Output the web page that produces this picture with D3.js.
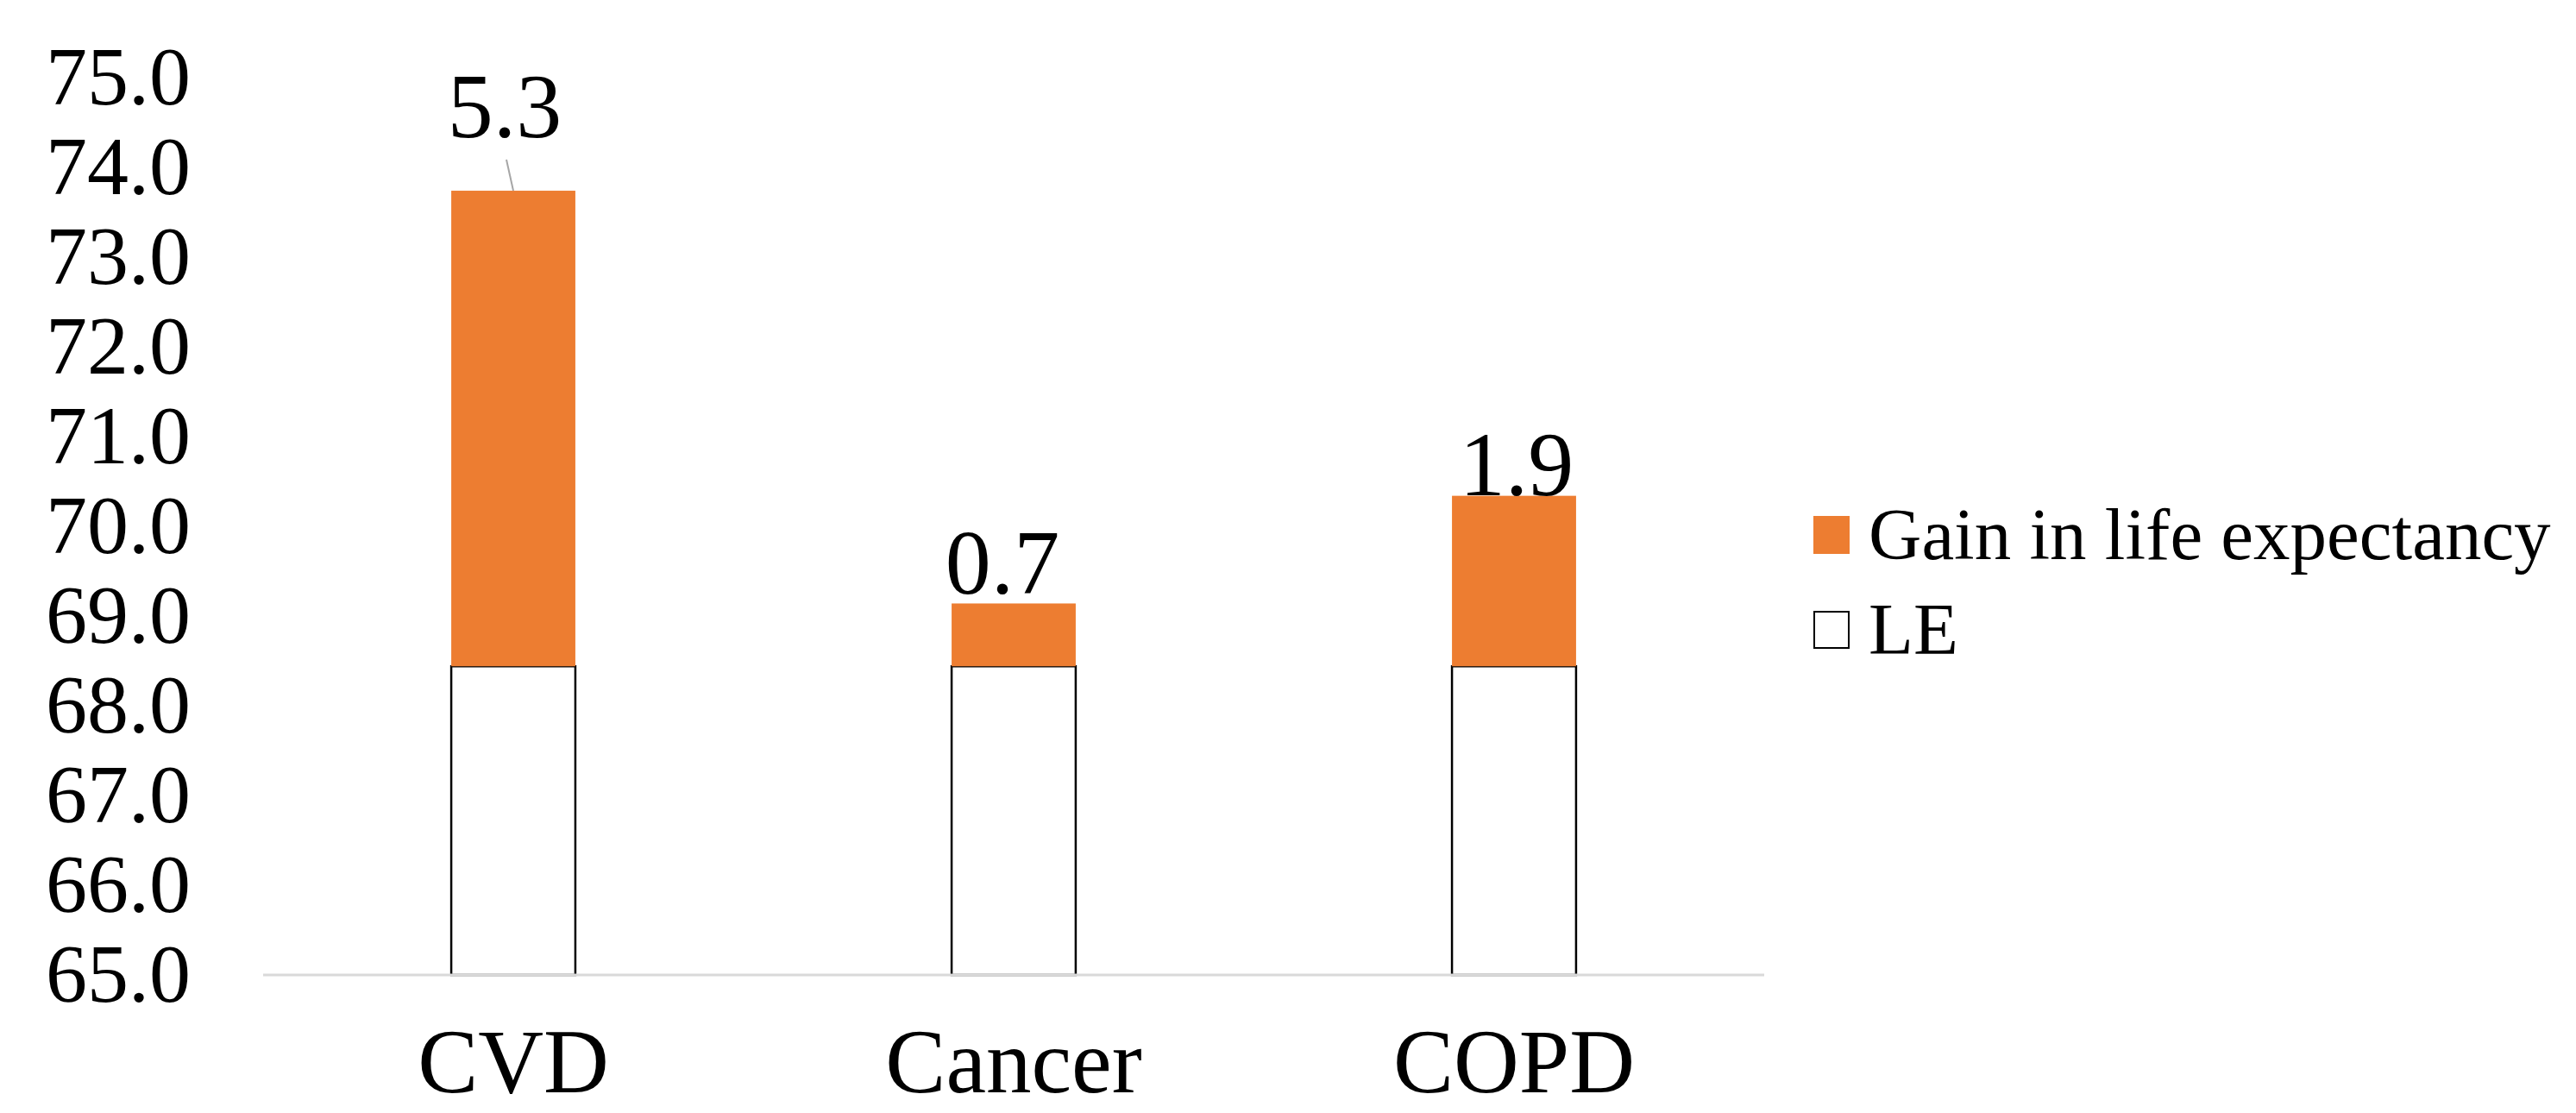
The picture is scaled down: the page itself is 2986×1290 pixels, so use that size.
<!DOCTYPE html>
<html>
<head>
<meta charset="utf-8">
<script src="https://cdn.jsdelivr.net/npm/d3@7"></script>
<style>
  html, body { margin: 0; padding: 0; background: #ffffff; }
  svg { display: block; }
  text { font-family: "Liberation Serif", "Times New Roman", serif; fill: #000; }
</style>
</head>
<body>
<svg id="chart" width="2986" height="1290"></svg>
<script>
// Life expectancy (LE) and the gain from eliminating each cause of death
const categories = ["CVD", "Cancer", "COPD"];
const leValues   = [68.44, 68.44, 68.44];
const gainValues = [5.3, 0.7, 1.9];
const yTicks     = [65, 66, 67, 68, 69, 70, 71, 72, 73, 74, 75];
const seriesNames = ["Gain in life expectancy", "LE"];

const rows = categories.map((c, i) => ({ cat: c, LE: leValues[i], Gain: gainValues[i] }));

const svg = d3.select("#chart");
const W = 2986, H = 1290;
svg.append("rect").attr("width", W).attr("height", H).attr("fill", "#fff");

const plot = { left: 305, right: 2045, top: 90, bottom: 1130 };

const x = d3.scaleBand()
  .domain(categories)
  .range([plot.left, plot.right])
  .paddingInner(0.752)
  .paddingOuter(0.376);

const y = d3.scaleLinear()
  .domain([65, 75])
  .range([plot.bottom, plot.top])
  .clamp(true);

const stack = d3.stack().keys(["LE", "Gain"]);
const layers = stack(rows);

const fills = { LE: "#ffffff", Gain: "#ED7D31" };

// stacked bars: white LE base with black outline, orange gain on top
layers.forEach(layer => {
  svg.append("g").selectAll("rect")
    .data(layer)
    .join("rect")
    .attr("x", d => x(d.data.cat))
    .attr("width", x.bandwidth())
    .attr("y", d => y(d[1]))
    .attr("height", d => y(d[0]) - y(d[1]))
    .attr("fill", fills[layer.key])
    .attr("stroke", layer.key === "LE" ? "#000" : "none")
    .attr("stroke-width", 2.5);
});

// category axis line
svg.append("line")
  .attr("x1", plot.left).attr("x2", plot.right)
  .attr("y1", y(65)).attr("y2", y(65))
  .attr("stroke", "#d9d9d9").attr("stroke-width", 3);

// value axis labels
const yAxis = d3.axisLeft(y)
  .tickValues(yTicks)
  .tickFormat(d3.format(".1f"))
  .tickSize(0)
  .tickPadding(84);
const gy = svg.append("g")
  .attr("transform", `translate(${plot.left},0)`)
  .call(yAxis);
gy.select(".domain").remove();
gy.selectAll("text")
  .style("font-family", '"Liberation Serif", "Times New Roman", serif')
  .style("font-size", "96px")
  .attr("fill", "#000");

// category labels
svg.append("g").selectAll("text")
  .data(categories)
  .join("text")
  .attr("x", d => x(d) + x.bandwidth() / 2)
  .attr("y", 1266)
  .attr("text-anchor", "middle")
  .style("font-size", "105px")
  .text(d => d);

// data labels for the gain segment, nudged as placed in the chart
const labelNudge = { CVD: { dx: -10, dy: -62 }, Cancer: { dx: -13, dy: -11 }, COPD: { dx: 3, dy: -1 } };
const gainLayer = layers[1];
const lbl = svg.append("g");
gainLayer.forEach(d => {
  const cx = x(d.data.cat) + x.bandwidth() / 2;
  const top = y(d[1]);
  const n = labelNudge[d.data.cat];
  if (n.dy < -30) {
    // leader line from the moved label back to its bar
    lbl.append("line")
      .attr("x1", cx + n.dx + 2).attr("y1", top + n.dy + 26)
      .attr("x2", cx).attr("y2", top)
      .attr("stroke", "#a6a6a6").attr("stroke-width", 2);
  }
  lbl.append("text")
    .attr("x", cx + n.dx)
    .attr("y", top + n.dy)
    .attr("text-anchor", "middle")
    .style("font-size", "106px")
    .text(d3.format(".1f")(d.data.Gain));
});

// legend
const legend = svg.append("g").attr("transform", "translate(2102,0)");
const legendRows = [
  { name: seriesNames[0], key: "Gain", cy: 620 },
  { name: seriesNames[1], key: "LE", cy: 730 }
];
legendRows.forEach(r => {
  legend.append("rect")
    .attr("x", r.key === "LE" ? 1 : 0)
    .attr("y", r.cy - 22 + (r.key === "LE" ? 1 : 0))
    .attr("width", r.key === "LE" ? 40 : 42)
    .attr("height", r.key === "LE" ? 42 : 44)
    .attr("fill", fills[r.key])
    .attr("stroke", r.key === "LE" ? "#000" : "none")
    .attr("stroke-width", 2);
  legend.append("text")
    .attr("x", 64)
    .attr("y", r.cy + 28)
    .style("font-size", "85px")
    .text(r.name);
});
</script>
</body>
</html>
